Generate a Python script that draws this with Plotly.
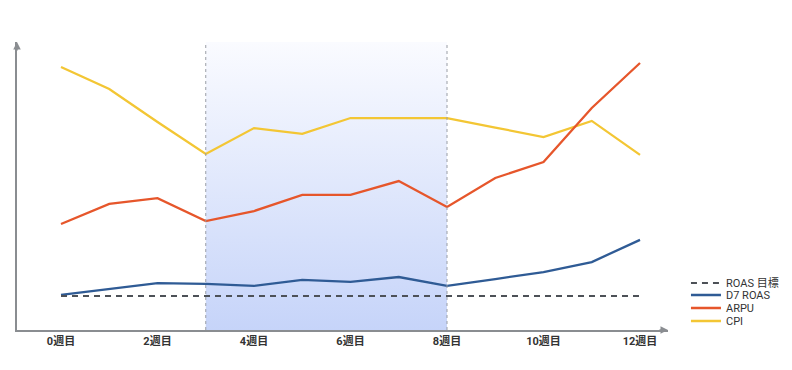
import plotly.graph_objects as go

weeks = list(range(13))
tick_weeks = [0, 2, 4, 6, 8, 10, 12]
tick_labels = ["0週目", "2週目", "4週目", "6週目", "8週目", "10週目", "12週目"]

roas_target = [11.8] * 13
d7_roas = [12.2, 14.2, 16.3, 16.0, 15.3, 17.4, 16.7, 18.4, 15.3, 17.7, 20.1, 23.6, 31.3]
arpu = [36.8, 43.8, 45.8, 37.8, 41.3, 46.9, 46.9, 51.7, 42.7, 52.8, 58.3, 77.1, 92.7]
cpi = [91.3, 83.7, 72.2, 61.1, 70.1, 68.1, 73.6, 73.6, 73.6, 70.3, 67.0, 72.6, 60.8]

band_start, band_end = 3, 8
y_max = 100
x_range = [-0.912, 12.58]

FONT = "Roboto, 'Noto Sans CJK JP', sans-serif"

fig = go.Figure()

# shaded band with vertical gradient
fig.add_trace(go.Scatter(
    x=[band_start, band_end, band_end, band_start, band_start],
    y=[0, 0, y_max, y_max, 0],
    fill="toself", mode="none", showlegend=False, hoverinfo="skip",
    fillgradient=dict(type="vertical",
                      colorscale=[[0, "rgb(198,212,249)"], [1, "rgb(250,251,255)"]]),
))

# drawing order (CPI beneath ARPU); legend order set by separate legends
series = [
    ("CPI", cpi, dict(color="#f3c634", width=2.3), "legend4"),
    ("ARPU", arpu, dict(color="#e6562b", width=2.3), "legend3"),
    ("D7 ROAS", d7_roas, dict(color="#2f5b95", width=2.3), "legend2"),
    ("ROAS 目標", roas_target, dict(color="#4d5157", width=2, dash="6px,5px"), "legend"),
]
for name, vals, line, lg in series:
    fig.add_trace(go.Scatter(x=weeks, y=vals, name=name, mode="lines", line=line, legend=lg))

for xb in (band_start, band_end):
    fig.add_shape(type="line", x0=xb, x1=xb, y0=0, y1=y_max, xref="x", yref="y",
                  line=dict(color="#9a9ea6", width=1, dash="3px,3px"), layer="above")

# axis arrows
fig.add_annotation(x=1.0, y=0, xref="paper", yref="paper", ax=-10, ay=0,
                   showarrow=True, arrowhead=2,
                   arrowsize=1, arrowwidth=1.5, arrowcolor="#8a8d91", text="")
fig.add_annotation(x=0, y=1.0, xref="paper", yref="paper", ax=0, ay=10,
                   showarrow=True, arrowhead=2, arrowsize=1, arrowwidth=1.5,
                   arrowcolor="#8a8d91", text="")

legend_common = dict(x=1.0276, xanchor="left", yanchor="middle",
                     font=dict(size=11, color="#333", family=FONT),
                     itemwidth=30, bgcolor="rgba(0,0,0,0)")
legend_y = [0.163, 0.1215, 0.0764, 0.03125]

fig.update_layout(
    width=792, height=370,
    margin=dict(l=9, r=132, t=34, b=48),
    paper_bgcolor="white", plot_bgcolor="white",
    font=dict(family=FONT, size=10, color="#333"),
    xaxis=dict(range=x_range, tickvals=tick_weeks, ticktext=tick_labels,
               showgrid=False, zeroline=False, showline=True, linecolor="#8a8d91",
               linewidth=1.5, ticks="", tickfont=dict(size=11, color="#333",
               family=FONT, weight="bold")),
    yaxis=dict(range=[0, y_max], showgrid=False, zeroline=False, showline=True,
               linecolor="#8a8d91", linewidth=1.5, showticklabels=False, ticks=""),
    legend=dict(y=legend_y[0], **legend_common),
    legend2=dict(y=legend_y[1], **legend_common),
    legend3=dict(y=legend_y[2], **legend_common),
    legend4=dict(y=legend_y[3], **legend_common),
    hovermode=False,
)

fig.write_html("out.html")
